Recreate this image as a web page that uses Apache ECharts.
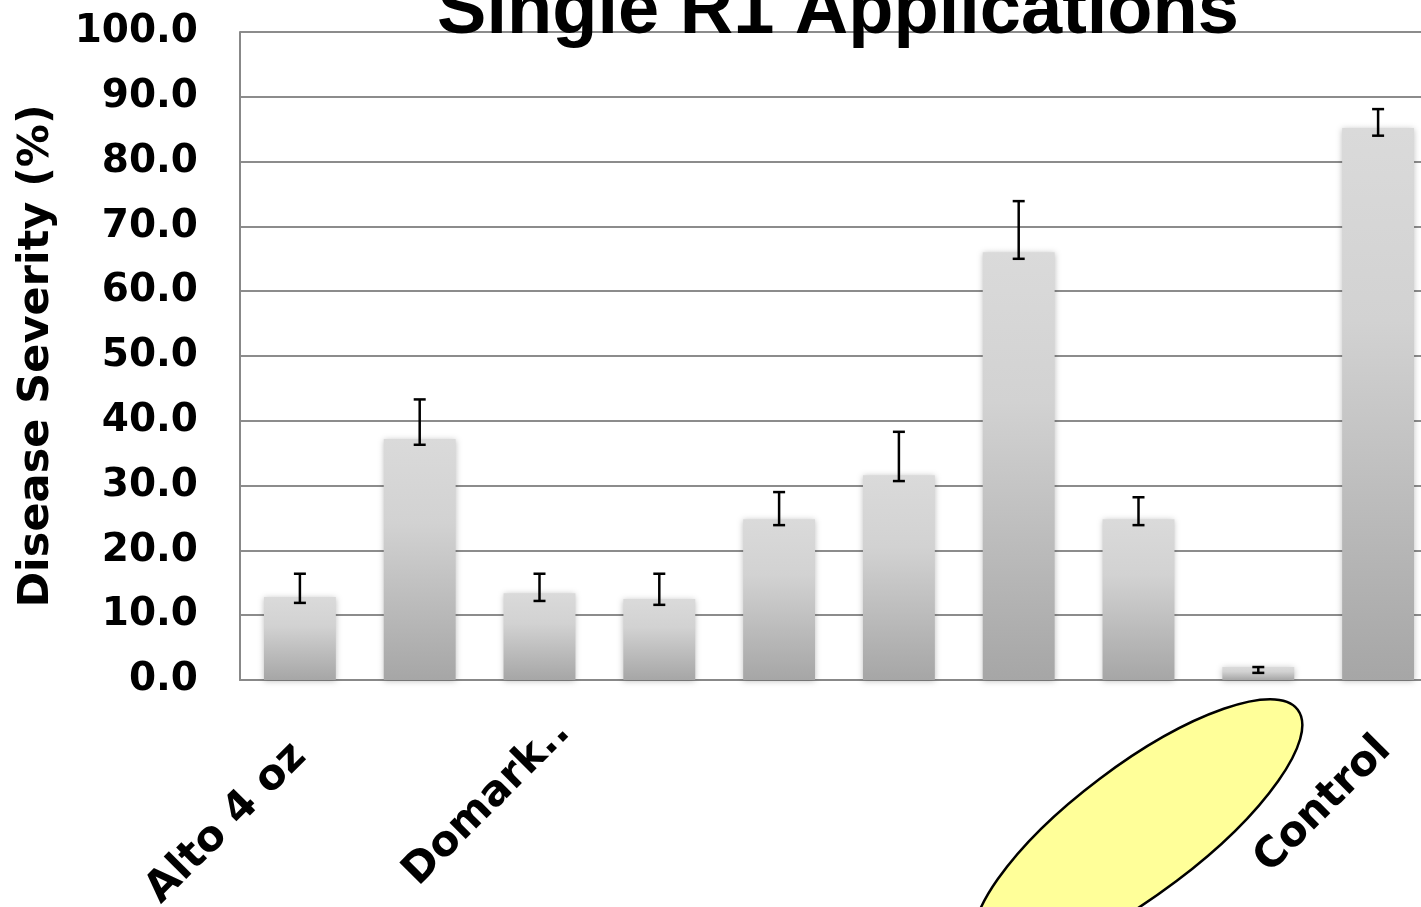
<!DOCTYPE html>
<html>
<head>
<meta charset="utf-8">
<script src="https://cdn.jsdelivr.net/npm/echarts@6/dist/echarts.min.js"></script>
<style>
html,body{margin:0;padding:0;background:#fff;}
#c{width:1421px;height:907px;}
</style>
</head>
<body>
<div id="c"></div>
<script>
const titleText = 'Single R1 Applications';
const yAxisName = 'Disease Severity (%)';
const categories = ['Alto 4 oz', '', 'Domark..', '', '', '', '', '', '', 'Control'];
const values = [12.8, 37.2, 13.4, 12.5, 24.8, 31.6, 66.0, 24.8, 2.0, 85.2];
const errHigh = [16.4, 43.3, 16.4, 16.4, 29.0, 38.3, 73.9, 28.2, 2.0, 88.1];
const errLow = [11.9, 36.3, 12.2, 11.6, 23.9, 30.7, 65.0, 23.9, 1.1, 84.0];
const yMin = 0, yMax = 100, yInterval = 10;

const chart = echarts.init(document.getElementById('c'), null, {renderer: 'canvas'});

const errData = categories.map((c, i) => [i, errLow[i], errHigh[i]]);
const labelShift = {2: -34, 9: -9};
const axisData = categories.map((c, i) => labelShift[i] !== undefined ? {value: c, textStyle: {padding: [0, labelShift[i], 0, 0]}} : c);

const option = {
  animation: false,
  backgroundColor: '#ffffff',
  grid: {left: 240, top: 32, width: 1198, height: 648, containLabel: false, outerBoundsMode: 'none'},
  xAxis: {
    type: 'category',
    data: axisData,
    axisLine: {show: true, lineStyle: {color: '#888888', width: 2}},
    axisTick: {show: false},
    axisLabel: {
      interval: 0, rotate: 45, margin: 70,
      fontFamily: 'DejaVu Sans', fontWeight: 'bold', fontSize: 42, color: '#000'
    },
    splitLine: {show: false}
  },
  yAxis: {
    type: 'value',
    min: yMin, max: yMax, interval: yInterval,
    name: yAxisName,
    nameLocation: 'middle',
    nameGap: 182,
    nameTextStyle: {fontFamily: 'DejaVu Sans', fontWeight: 'bold', fontSize: 43, color: '#000'},
    axisLine: {show: true, lineStyle: {color: '#888888', width: 2}},
    axisTick: {show: false},
    axisLabel: {
      margin: 42, formatter: v => v.toFixed(1),
      fontFamily: 'DejaVu Sans', fontWeight: 'bold', fontSize: 39, color: '#000'
    },
    splitLine: {show: true, lineStyle: {color: '#8c8c8c', width: 2}}
  },
  series: [
    {
      type: 'bar',
      data: values,
      barWidth: '60%',
      itemStyle: {
        color: new echarts.graphic.LinearGradient(0, 0, 0, 1, [
          {offset: 0, color: '#dadada'},
          {offset: 0.35, color: '#d2d2d2'},
          {offset: 1, color: '#a6a6a6'}
        ]),
        shadowBlur: 6,
        shadowColor: 'rgba(0,0,0,0.25)',
        shadowOffsetX: 0,
        shadowOffsetY: 1
      },
      z: 2
    },
    {
      type: 'custom',
      data: errData,
      z: 5,
      renderItem: function (params, api) {
        const x = api.value(0);
        const lo = api.coord([x, api.value(1)]);
        const hi = api.coord([x, api.value(2)]);
        const hw = 6;
        const st = {stroke: '#000', lineWidth: 2.5};
        return {
          type: 'group',
          children: [
            {type: 'line', shape: {x1: lo[0], y1: lo[1], x2: hi[0], y2: hi[1]}, style: st},
            {type: 'line', shape: {x1: lo[0] - hw, y1: lo[1], x2: lo[0] + hw, y2: lo[1]}, style: st},
            {type: 'line', shape: {x1: hi[0] - hw, y1: hi[1], x2: hi[0] + hw, y2: hi[1]}, style: st}
          ]
        };
      }
    }
  ],
  graphic: [
    {
      type: 'text',
      x: 838, y: 13,
      z: 10,
      style: {
        text: titleText,
        fontFamily: 'Liberation Sans', fontWeight: 'bold', fontSize: 74,
        fill: '#000', textAlign: 'center', textVerticalAlign: 'middle'
      }
    },
    {
      type: 'ellipse',
      x: 1138, y: 830,
      rotation: 37 * Math.PI / 180,
      shape: {cx: 0, cy: 0, rx: 200, ry: 64},
      style: {fill: '#ffff99', stroke: '#000', lineWidth: 2.5},
      z: 20
    }
  ]
};
chart.setOption(option);
</script>
</body>
</html>
